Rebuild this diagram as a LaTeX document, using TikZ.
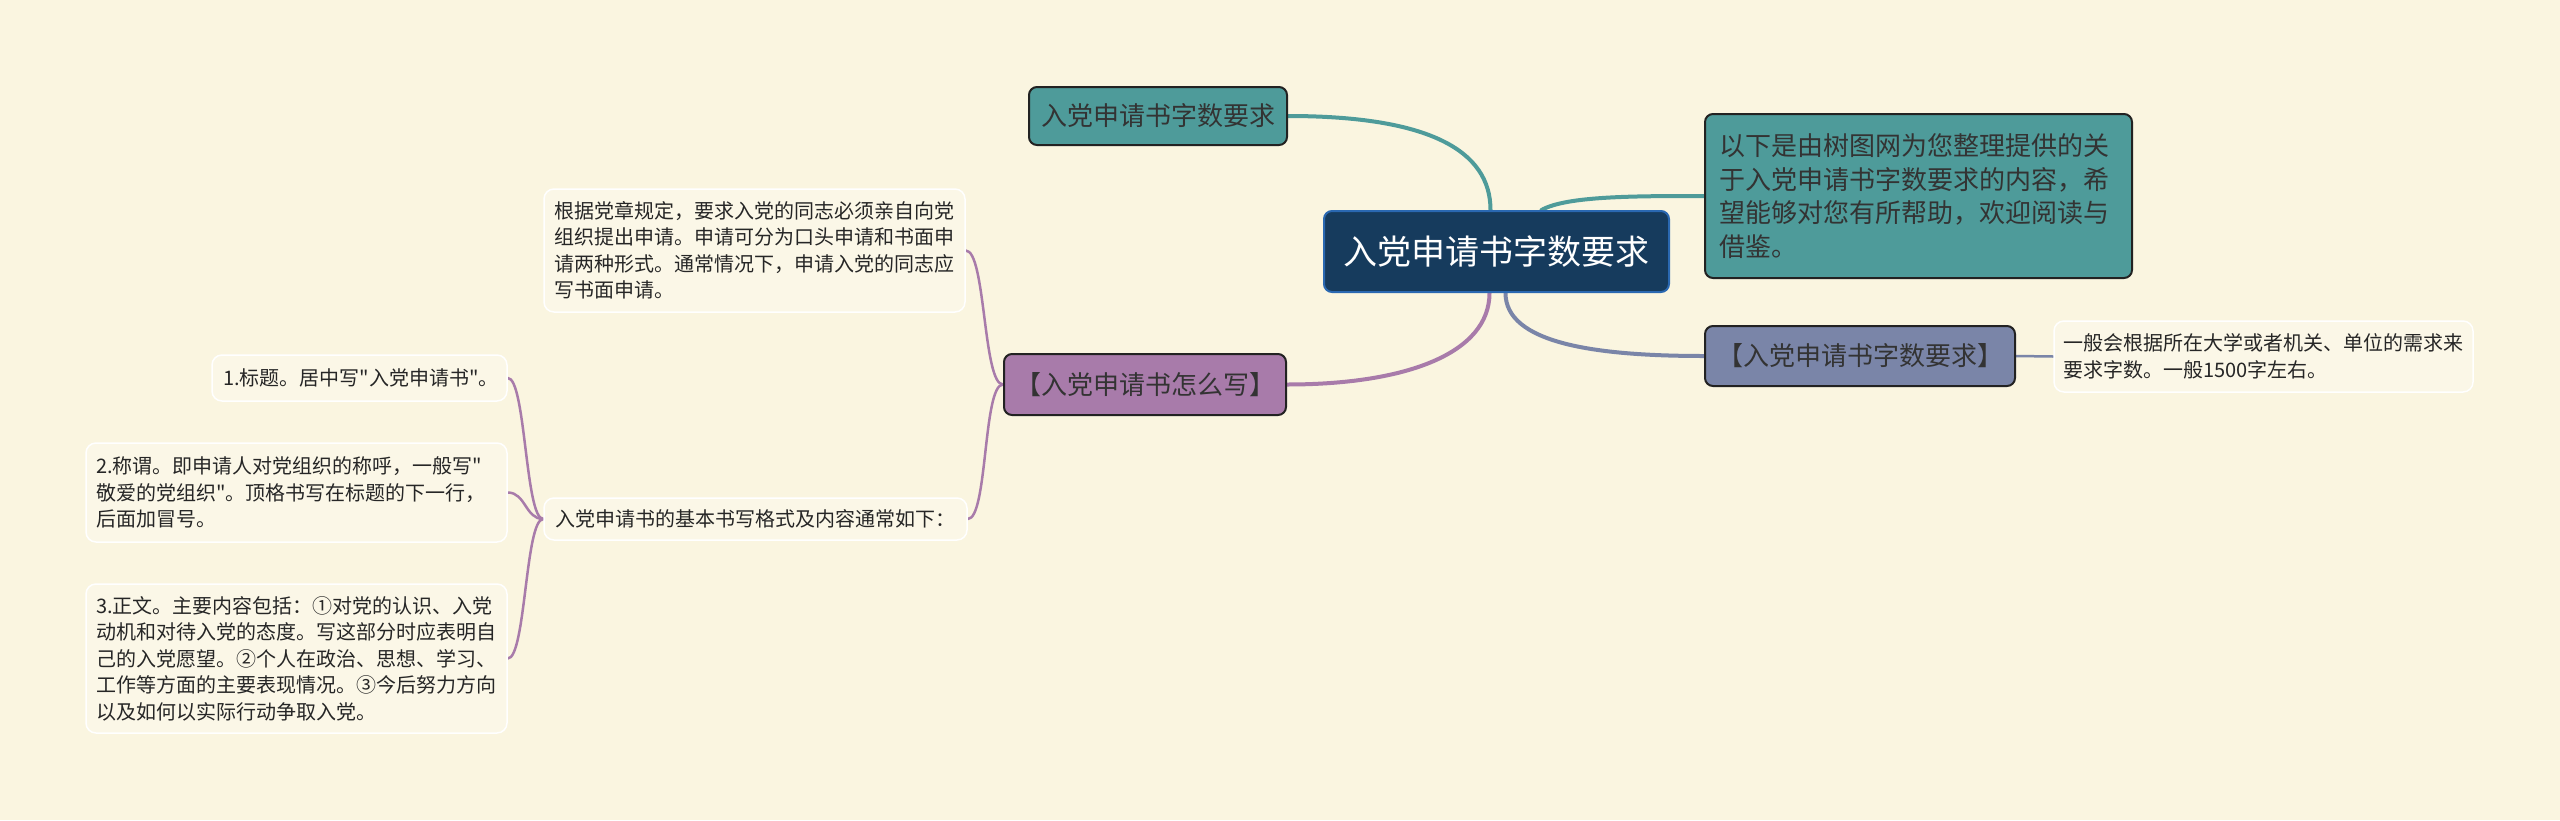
\documentclass[tikz,border=0pt]{standalone}
\usepackage{fontspec}
\setmainfont{Noto Sans CJK SC}[Ligatures=TeXOff]
\usetikzlibrary{backgrounds}
\definecolor{bgc}{HTML}{FAF5E0}
\definecolor{rootfill}{HTML}{163B5D}
\definecolor{rootborder}{HTML}{2A68B1}
\definecolor{tealc}{HTML}{4E9B9A}
\definecolor{grayblue}{HTML}{7A85A8}
\definecolor{purplec}{HTML}{A87BAA}
\definecolor{txt}{HTML}{333333}
\definecolor{leaffill}{HTML}{FBF7E7}
\definecolor{boxborder}{HTML}{222222}
\tikzset{
  rootbox/.style={rounded corners=8pt, line width=2pt, draw=rootborder, fill=rootfill, text=white,
    font=\fontsize{34}{40}\selectfont, minimum width=345pt, minimum height=81pt, inner sep=0pt},
  midbox/.style={rounded corners=8pt, line width=2pt, draw=boxborder, text=txt,
    font=\fontsize{26}{33.5}\selectfont, inner sep=0pt},
  leafbox/.style={rounded corners=10pt, line width=1.5pt, draw=white, fill=leaffill, text=black!85,
    font=\fontsize{20}{26.5}\selectfont, align=left, inner ysep=0pt},
  bigline/.style={line width=4pt, line cap=round},
  smallline/.style={line width=2.5pt, line cap=round},
}
\begin{document}
\begin{tikzpicture}[x=1pt,y=-1pt]
\useasboundingbox (0,0) rectangle (2560,820);

\node[rootbox] (root) at (1496.5,251.5) {入党申请书字数要求};
\node[midbox, fill=tealc, minimum width=258pt, minimum height=58pt] (t1) at (1158,116) {入党申请书字数要求};
\node[midbox, fill=tealc, text width=399pt, inner xsep=14pt, minimum height=164pt, align=left] (tr) at (1918.5,196)
  {以下是由树图网为您整理提供的关\\于入党申请书字数要求的内容，希\\望能够对您有所帮助，欢迎阅读与\\借鉴。};
\node[midbox, fill=grayblue, minimum width=310pt, minimum height=60pt] (gr) at (1860,356) {【入党申请书字数要求】};
\node[leafbox, text width=401pt, inner xsep=9pt, minimum height=71pt] (lr) at (2263.5,356.5)
  {一般会根据所在大学或者机关、单位的需求来\\要求字数。一般1500字左右。};
\node[midbox, fill=purplec, minimum width=282pt, minimum height=61pt] (pl) at (1145,384.5) {【入党申请书怎么写】};
\node[leafbox, text width=401pt, inner xsep=10pt, minimum height=123pt] (l1) at (754.5,250.5)
  {根据党章规定，要求入党的同志必须亲自向党\\组织提出申请。申请可分为口头申请和书面申\\请两种形式。通常情况下，申请入党的同志应\\写书面申请。};
\node[leafbox, text width=401pt, inner xsep=11pt, minimum height=42pt] (lb) at (755.5,519)
  {入党申请书的基本书写格式及内容通常如下：};
\node[leafbox, text width=273pt, inner xsep=11pt, minimum height=46pt] (lt) at (359.5,378)
  {1.标题。居中写"入党申请书"。};
\node[leafbox, text width=401pt, inner xsep=10pt, minimum height=99pt] (lc) at (296.5,492.5)
  {2.称谓。即申请人对党组织的称呼，一般写"\\敬爱的党组织"。顶格书写在标题的下一行，\\后面加冒号。};
\node[leafbox, text width=401pt, inner xsep=10pt, minimum height=149pt] (lz) at (296.5,658.5)
  {3.正文。主要内容包括：①对党的认识、入党\\动机和对待入党的态度。写这部分时应表明自\\己的入党愿望。②个人在政治、思想、学习、\\工作等方面的主要表现情况。③今后努力方向\\以及如何以实际行动争取入党。};

\begin{scope}[on background layer]
\fill[bgc] (0,0) rectangle (2560,820);
\draw[bigline, tealc] (t1.east) .. controls +(140,0) and +(0,-60) .. ([xshift=-6pt]root.north);
\draw[bigline, tealc] ([xshift=45pt]root.north) .. controls +(25,-14) and +(-70,0) .. (tr.west);
\draw[bigline, grayblue] ([xshift=9pt]root.south) .. controls +(0,50) and +(-110,0) .. (gr.west);
\draw[bigline, purplec] ([xshift=-7pt]root.south) .. controls +(0,60) and +(120,0) .. (pl.east);
\draw[smallline, grayblue] (gr.east) -- (lr.west);
\draw[smallline, purplec] (pl.west) .. controls +(-20,0) and +(20,0) .. (l1.east);
\draw[smallline, purplec] (pl.west) .. controls +(-20,0) and +(20,0) .. (lb.east);
\draw[smallline, purplec] (lb.west) .. controls +(-18,0) and +(18,0) .. (lt.east);
\draw[smallline, purplec] (lb.west) .. controls +(-18,0) and +(18,0) .. (lc.east);
\draw[smallline, purplec] (lb.west) .. controls +(-18,0) and +(18,0) .. (lz.east);
\end{scope}
\end{tikzpicture}
\end{document}
